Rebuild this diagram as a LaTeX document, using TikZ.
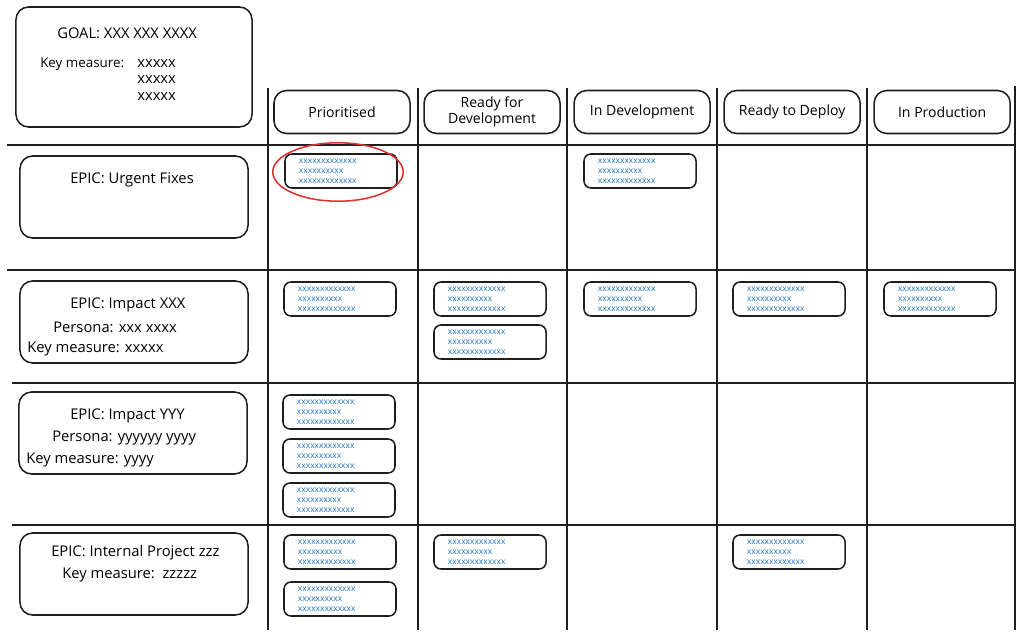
\documentclass[tikz,border=0pt]{standalone}
\usepackage{fontspec}
\setmainfont{Open Sans}
\usetikzlibrary{positioning}

\definecolor{ink}{HTML}{1E1E1E}
\definecolor{cardblue}{HTML}{1971C2}
\definecolor{ringred}{HTML}{E03131}

\newcommand{\cardtext}{xxxxxxxxxxxxx\\xxxxxxxxxx\\xxxxxxxxxxxxx}

\tikzset{
  box/.style={draw=ink,line width=1.1pt,rounded corners=9pt},
  header/.style={box,minimum width=3.4cm,minimum height=1.075cm,
    align=center,font=\fontsize{10}{11.5}\selectfont,inner sep=1pt},
  epic/.style={box,minimum width=5.7cm,minimum height=2.05cm},
  card/.style={draw=ink,line width=1.1pt,rounded corners=5pt,
    minimum width=2.8cm,minimum height=0.85cm,inner xsep=0.35cm,
    text width=2.1cm,align=left,text=cardblue,
    font=\fontsize{6}{7.1}\selectfont},
  label/.style={anchor=west,inner sep=0pt,font=\fontsize{10.5}{12}\selectfont},
  grid/.style={draw=ink,line width=1.4pt},
}

\begin{document}
\begin{tikzpicture}[x=0.025cm,y=-0.025cm,node distance=3.75cm]
  \useasboundingbox (0,0) rectangle (1024,637);

  % board lines
  \draw[grid] (7,145) -- (1015,145);
  \draw[grid] (7,270) -- (1015,270);
  \draw[grid] (12,383) -- (1015,383);
  \draw[grid] (12,525) -- (1015,525);
  \draw[grid] (268,88) -- (268,630);
  \draw[grid] (418,88) -- (418,630);
  \draw[grid] (567,88) -- (567,630);
  \draw[grid] (717,88) -- (717,630);
  \draw[grid] (867,88) -- (867,630);
  \draw[grid] (1015,86) -- (1015,630);

  % goal
  \node[box,minimum width=5.9cm,minimum height=3cm] (goal) at (134,67) {};
  \node[label] (goaltxt) at (57,33) {GOAL: XXX XXX XXXX};
  \node[label,font=\fontsize{9.5}{11}\selectfont] (goalkey) at (40,64) {Key measure:};
  \node[label] (goalm1) at (137,64) {xxxxx};
  \node[label] (goalm2) at (137,80) {xxxxx};
  \node[label] (goalm3) at (137,97) {xxxxx};

  % columns
  \node[header] (hprio) at (342,112) {Prioritised};
  \node[header] (hready) [right of=hprio] {Ready for\\Development};
  \node[header] (hdev) [right of=hready] {In Development};
  \node[header] (hdeploy) [right of=hdev] {Ready to Deploy};
  \node[header] (hprod) [right of=hdeploy] {In Production};

  % epic: urgent fixes
  \node[epic] (epicfix) at (134,197) {};
  \node[label] (fixtxt) at (70,180) {EPIC: Urgent Fixes};
  \node[card] (c11) at (341,171) {\cardtext};
  \node[card] (c13) at (640,171) {\cardtext};
  \draw[ringred,line width=1.1pt] (338,172) ellipse [x radius=1.63cm,y radius=0.73cm];

  % epic: impact xxx
  \node[epic] (epicxxx) at (134,322) {};
  \node[label] (xxxtxt) at (70,305) {EPIC: Impact XXX};
  \node[label] (xxxper) at (53,327) {Persona: xxx xxxx};
  \node[label] (xxxkey) at (27,349) {Key measure: xxxxx};
  \node[card] (c21) at (340,299) {\cardtext};
  \node[card] (c22) at (490,299) {\cardtext};
  \node[card] (c22b) at (490,342) {\cardtext};
  \node[card] (c23) at (640,299) {\cardtext};
  \node[card] (c24) at (789,299) {\cardtext};
  \node[card] (c25) at (940,299) {\cardtext};

  % epic: impact yyy
  \node[epic] (epicyyy) at (133,433) {};
  \node[label] (yyytxt) at (70,416) {EPIC: Impact YYY};
  \node[label] (yyyper) at (52,438) {Persona: yyyyyy yyyy};
  \node[label] (yyykey) at (26,460) {Key measure: yyyy};
  \node[card] (c31) at (339,412) {\cardtext};
  \node[card] (c31b) at (339,456) {\cardtext};
  \node[card] (c31c) at (339,500) {\cardtext};

  % epic: internal project zzz
  \node[epic] (epiczzz) at (134,574) {};
  \node[label] (zzztxt) at (51,553) {EPIC: Internal Project zzz};
  \node[label] (zzzkey) at (62,575) {Key measure:\ \ zzzzz};
  \node[card] (c41) at (340,552) {\cardtext};
  \node[card] (c41b) at (340,599) {\cardtext};
  \node[card] (c42) at (490,552) {\cardtext};
  \node[card] (c44) at (789,552) {\cardtext};
\end{tikzpicture}
\end{document}
